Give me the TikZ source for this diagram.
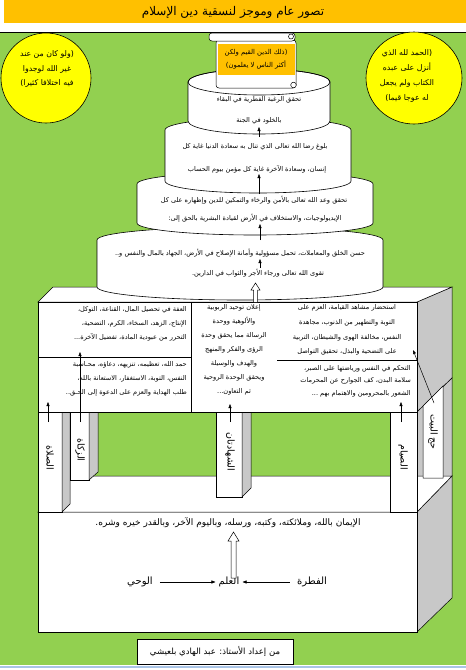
\documentclass[tikz,border=0pt]{standalone}
\usepackage{fontspec}
\newfontfamily\arabicfont[Script=Arabic]{DejaVu Sans}
\TeXXeTstate=1
\usetikzlibrary{arrows.meta}
\definecolor{bggreen}{HTML}{92D050}
\definecolor{titleorange}{HTML}{FFC000}
\definecolor{sunyellow}{HTML}{FFFF00}
\definecolor{facegray}{HTML}{C8C8C8}
\definecolor{pageblue}{HTML}{A9C4E6}
\newcommand{\ar}[1]{\beginR #1\endR}
\newcommand{\fsz}[2]{\fontsize{#1}{#2}\selectfont}
% cylinder tier: cx, rx, ctop, cbot, ry ; only the back half of the top ellipse is drawn
\newcommand{\tier}[5]{%
  \path[tierface] (#1-#2,#3) -- (#1-#2,#4) arc[start angle=180,end angle=0,x radius=#2,y radius=#5]
     -- (#1+#2,#3) arc[start angle=0,end angle=-180,x radius=#2,y radius=#5] -- cycle;}
\begin{document}
\begin{tikzpicture}[x=1pt,y=-1pt,
  artxt/.style={font=\arabicfont\fsz{6.6}{14}, inner sep=0pt, align=center},
  arr/.style={-{Triangle[length=4pt,width=3pt]}, line width=0.5pt},
  face/.style={fill=white, draw=black, line width=0.5pt},
  sideface/.style={fill=facegray, draw=black, line width=0.5pt},
  tierface/.style={fill=white, draw=black, line width=0.6pt},
  blockarr/.style={fill=white, draw=black, line width=0.5pt},
  pillarlabel/.style={font=\arabicfont\fsz{9.5}{11}, inner sep=0pt, rotate=-90},
]
\useasboundingbox (0,0) rectangle (466,670);
\fill[white] (0,0) rectangle (466,670);
% title bar
\fill[titleorange] (4,0) rectangle (466,23);
\node[font=\arabicfont\fsz{12}{14}, inner sep=0pt] (title) at (233,12) {\ar{تصور عام وموجز لنسقية دين الإسلام}};
% green background
\fill[bggreen] (0,32) rectangle (466,665);
\draw[line width=0.8pt] (0,32) -- (466,32);
\fill[pageblue] (0,665.5) rectangle (466,668);

% circles
\draw[fill=sunyellow, line width=0.6pt] (46,78) ellipse[x radius=45, y radius=45];
\draw[fill=sunyellow, line width=0.6pt] (414,78) ellipse[x radius=48, y radius=46];
\node[artxt, font=\arabicfont\fsz{7.8}{14.5}] (qleft) at (47,69)
  {\ar{(ولو كان من عند}\\\ar{غير الله لوجدوا}\\\ar{فيه اختلافا كثيرا)}};
\node[artxt, font=\arabicfont\fsz{7.8}{15}] (qright) at (407,75.5)
  {\ar{(الحمد لله الذي}\\\ar{أنزل على عبده}\\\ar{الكتاب ولم يجعل}\\\ar{له عوجا قيما)}};

% ===== temple box =====
% roof
\path[sideface] (417,302) -- (452,287) -- (452,378) -- (417,412) -- cycle;
\path[face] (38,302) -- (53,287) -- (452,287) -- (417,302) -- cycle;
% space between roof and base on the right side
\path[sideface] (417,412) -- (452,378) -- (452,476) -- (417,512) -- cycle;
% base
\path[sideface] (417,512) -- (452,476) -- (452,598) -- (417,632) -- cycle;
\path[face] (38,512) -- (72,476) -- (452,476) -- (417,512) -- cycle;
\path[face] (38,512) rectangle (417,632);
\draw[line width=1.3pt, black!45] (38,512.5) -- (417,512.5);
% pillars
\path[face] (38,412) rectangle (62,512);
\path[sideface] (62,412) -- (70,412) -- (70,504) -- (62,512) -- cycle;
\path[face] (70,412) rectangle (89,480);
\path[sideface] (89,412) -- (98,412) -- (98,472) -- (89,480) -- cycle;
\path[face] (216,412) rectangle (242,497);
\path[sideface] (242,412) -- (251,412) -- (251,488) -- (242,497) -- cycle;
\path[face] (390,412) rectangle (417,512);
\path[face] (423,406) -- (443,386) -- (443,478) -- (423,478) -- cycle;
% roof front
\path[face] (38,302) rectangle (417,412);
\draw[line width=0.5pt] (191,302) -- (191,412);
\draw[line width=0.5pt] (38,357) -- (191,357);
\draw[line width=0.5pt] (277,360) -- (417,360);

% roof texts
\node[artxt, align=right, anchor=east] (zakattxt) at (187,324)
  {\ar{العفة في تحصيل المال، القناعة، التوكل،}\\\ar{الإنتاج، الزهد، السخاء، الكرم، التضحية،}\\\ar{التحرر من عبودية المادة، تفضيل الآخرة...}};
\node[artxt, align=right, anchor=east] (salattxt) at (187,379)
  {\ar{حمد الله، تعظيمه، تنزيهه، دعاؤه، محـاسبة}\\\ar{النفس، التوبة، الاستغفار، الاستعانة بالله،}\\\ar{طلب الهداية والعزم على الدعوة إلى الحـق..}};
\node[artxt] (shahtxt) at (234,350)
  {\ar{إعلان توحيد الربوبية}\\\ar{والألوهية ووحدة}\\\ar{الرسالة مما يحقق وحدة}\\\ar{الرؤى والفكر والمنهج}\\\ar{والهدف والوسيلة}\\\ar{ويحقق الوحدة الروحية}\\\ar{ثم التعاون...}};
\node[artxt, font=\arabicfont\fsz{6.6}{14.6}] (hajjtxt) at (347,330)
  {\ar{استحضار مشاهد القيامة، العزم على}\\\ar{التوبة والتطهير من الذنوب، مجاهدة}\\\ar{النفس، مخالفة الهوى والشيطان، التربية}\\\ar{على التضحية والبذل، تحقيق التواصل}};
\node[artxt, align=right, anchor=east, font=\arabicfont\fsz{6.6}{12.7}] (siyamtxt) at (411,381)
  {\ar{التحكم في النفس ورياضتها على الصبر،}\\\ar{سلامة البدن، كف الجوارح عن المحرمات}\\\ar{الشعور بالمحرومين والاهتمام بهم ...}};

% pillar labels
\node[pillarlabel] (salat) at (50,458) {\ar{الصلاة}};
\node[pillarlabel] (zakat) at (80,450) {\ar{الزكاة}};
\node[pillarlabel] (shahada) at (230,452) {\ar{الشهادتان}};
\node[pillarlabel] (siyam) at (403,457) {\ar{الصيام}};
\node[pillarlabel] (hajj) at (433,432) {\ar{حج البيت}};

% pillar arrows
\coordinate (p1s) at (48,422);  \coordinate (p1e) at (48,402);
\coordinate (p2s) at (80,422);  \coordinate (p2e) at (80,352);
\coordinate (p3s) at (230,422); \coordinate (p3e) at (230,404);
\coordinate (p4s) at (401,422); \coordinate (p4e) at (401,402);
\coordinate (p5s) at (434,403); \coordinate (p5e) at (413,350);
\draw[arr] (p1s) -- (p1e);
\draw[arr] (p2s) -- (p2e);
\draw[arr] (p3s) -- (p3e);
\draw[arr] (p4s) -- (p4e);
\draw[arr] (p5s) -- (p5e);

% base texts
\node[font=\arabicfont\fsz{9}{11}, inner sep=0pt] (iman) at (228,523)
  {\ar{الإيمان بالله، وملائكته، وكتبه، ورسله، وباليوم الآخر، وبالقدر خيره وشره.}};
\node[font=\arabicfont\fsz{10}{12}, inner sep=1pt] (wahy) at (140,582) {\ar{الوحي}};
\node[font=\arabicfont\fsz{10}{12}, inner sep=1pt] (ilm) at (229,582) {\ar{العلم}};
\node[font=\arabicfont\fsz{10}{12}, inner sep=1pt] (fitra) at (312,582) {\ar{الفطرة}};
\draw[arr, shorten <=6pt, shorten >=2pt] (wahy) -- (ilm);
\draw[arr, shorten <=6pt, shorten >=2pt] (fitra) -- (ilm);
\draw[blockarr] (231,578) -- (231,541) -- (228,541) -- (233.5,532) -- (239,541) -- (236,541) -- (236,578) -- cycle;

% ===== cake tiers =====
\tier{240}{143}{240}{287}{13}
\tier{255}{118}{184}{223}{12}
\tier{258}{93}{130}{181}{12}
\tier{259}{71}{82}{121}{13}
\draw[line width=0.6pt] (259,82) ellipse[x radius=71,y radius=13];

\node[artxt] (t1a) at (259,100) {\ar{تحقق الرغبة الفطرية في البقاء}};
\node[artxt] (t1b) at (259,121) {\ar{بالخلود في الجنة}};
\node[artxt] (t2a) at (255,147) {\ar{بلوغ رضا الله تعالى الذي تنال به سعادة الدنيا غاية كل}};
\node[artxt] (t2b) at (257,169) {\ar{إنسان، وسعادة الآخرة غاية كل مؤمن بيوم الحساب}};
\node[artxt] (t3a) at (254,200) {\ar{تحقق وعد الله تعالى بالأمن والرخاء والتمكين للدين وإظهاره على كل}};
\node[artxt] (t3b) at (255,218) {\ar{الإيديولوجيات، والاستخلاف في الأرض لقيادة البشرية بالحق إلى:}};
\node[artxt] (t4a) at (240,253) {\ar{حسن الخلق والمعاملات، تحمل مسؤولية وأمانة الإصلاح في الأرض، الجهاد بالمال والنفس و..}};
\node[artxt] (t4b) at (258,273) {\ar{تقوى الله تعالى ورجاء الأجر والثواب في الدارين.}};

% tier arrows
\coordinate (a1s) at (259,137); \coordinate (a1e) at (259,127);
\coordinate (a2s) at (259,194); \coordinate (a2e) at (259,174);
\coordinate (a3s) at (260,240); \coordinate (a3e) at (260,224);
\coordinate (a4s) at (260,268); \coordinate (a4e) at (260,259);
\draw[arr] (a1s) -- (a1e);
\draw[arr] (a2s) -- (a2e);
\draw[arr] (a3s) -- (a3e);
\draw[arr] (a4s) -- (a4e);
% block arrow from box to bottom tier
\draw[blockarr] (253.5,302) -- (253.5,290) -- (251,290) -- (255.5,283) -- (260,290) -- (257.5,290) -- (257.5,302);

% ===== scroll =====
\draw[face, rounded corners=3pt] (216,40) rectangle (296,88);
\draw[face, rounded corners=3pt] (209,33) rectangle (295,41);
\draw[face] (291,36.5) circle[radius=2.5];
\draw[face] (293.5,85) circle[radius=2.8];
\fill[titleorange] (218,44) rectangle (295,75);
\node[artxt, font=\arabicfont\fsz{6.8}{13}] (scrolltxt) at (256,59)
  {\ar{(ذلك الدين القيم ولكن}\\\ar{أكثر الناس لا يعلمون)}};

% credit
\node[draw=black, fill=white, line width=0.6pt, minimum width=156pt, minimum height=25pt,
      font=\arabicfont\fsz{8.5}{10}, inner sep=0pt] (credit) at (215,651.5)
  {\ar{من إعداد الأستاذ: عبد الهادي بلعيشي}};
\end{tikzpicture}
\end{document}
